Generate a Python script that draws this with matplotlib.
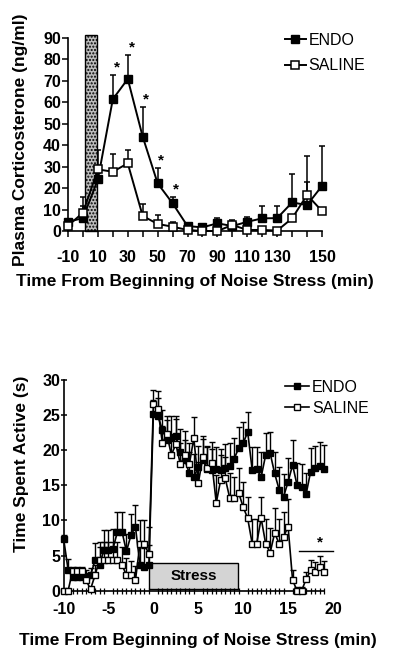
import matplotlib
matplotlib.use("Agg")
import matplotlib.pyplot as plt
import numpy as np
from matplotlib.patches import Rectangle

plt.rcParams['font.family'] = ['Liberation Sans', 'DejaVu Sans']

# ---------------- Top panel data (plasma corticosterone) ----------------
top_tick_labels = ['-10', '', '10', '', '30', '', '50', '', '70', '', '90', '',
                   '110', '', '130', '', '', '150']
top_endo = [4.3, 6.0, 24.0, 61.4, 70.8, 43.9, 22.2, 12.9, 2.3, 1.7, 3.6, 2.3,
            4.3, 5.9, 6.0, 13.3, 12.1, 21.0]
top_endo_err = [1.5, 10.0, 3.0, 11.1, 11.0, 13.7, 7.3, 3.1, 1.0, 1.0, 2.4, 2.7,
                2.4, 5.7, 5.6, 13.1, 10.9, 18.6]
top_saline = [2.5, 8.5, 28.7, 27.6, 31.5, 7.0, 3.3, 2.0, 0.5, 0.0, 0.0, 2.8,
              0.5, 0.5, 0.2, 5.9, 16.8, 9.3]
top_saline_err = [1.0, 3.0, 9.0, 8.4, 6.2, 5.4, 4.1, 2.3, 0.5, 0.5, 0.5, 1.0,
                  0.5, 0.5, 0.5, 1.0, 18.2, 1.0]
top_star_idx = [3, 4, 5, 6, 7]
top_yticks = [0, 10, 20, 30, 40, 50, 60, 70, 80, 90]

# ---------------- Bottom panel data (time spent active) ----------------
bot_time = [-10 + 0.5 * i for i in range(59)]
bot_endo = [7.4, 3.0, 1.9, 1.9, 1.9, 1.9, 2.2, 4.3, 3.7, 5.8,
            5.8, 6.0, 8.4, 8.4, 5.6, 7.9, 9.1, 3.7, 3.3, 3.7,
            25.2, 24.9, 22.9, 21.5, 21.8, 22.0, 19.8, 18.6, 16.7, 16.2,
            17.6, 18.6, 17.3, 17.2, 17.3, 17.2, 17.4, 17.8, 18.8, 20.3,
            21.0, 22.6, 17.2, 17.3, 16.2, 19.3, 19.6, 16.7, 14.4, 13.4,
            15.5, 17.9, 15.0, 14.8, 13.7, 16.9, 17.4, 17.8, 17.3]
bot_endo_err = [0.5, 1.5, 0.8, 0.8, 0.8, 1.0, 1.0, 2.5, 2.5, 2.8,
                2.8, 2.8, 2.8, 2.8, 2.5, 3.0, 3.1, 2.5, 2.8, 2.8,
                2.0, 2.5, 2.8, 2.8, 3.0, 2.8, 3.2, 2.8, 3.0, 3.2,
                3.0, 3.0, 3.2, 3.0, 3.2, 3.0, 3.5, 3.2, 3.0, 3.0,
                3.0, 2.8, 3.2, 3.2, 3.5, 3.2, 3.0, 3.0, 3.2, 3.2,
                3.4, 3.5, 3.2, 3.2, 3.0, 3.4, 3.2, 3.4, 3.4]
bot_saline = [0.0, 0.0, 2.8, 2.8, 2.8, 1.5, 0.2, 2.2, 4.4, 4.4,
              4.4, 4.4, 4.4, 3.7, 2.2, 2.2, 1.5, 6.6, 6.6, 5.2,
              26.6, 25.9, 21.0, 22.3, 19.3, 20.9, 18.0, 19.3, 18.0, 21.7,
              15.3, 19.0, 17.4, 18.2, 12.5, 15.8, 16.0, 13.2, 13.2, 13.9,
              11.9, 10.3, 6.7, 6.7, 10.3, 6.7, 5.4, 8.2, 6.7, 7.7,
              9.1, 1.5, 0.0, 0.0, 1.6, 2.9, 2.6, 3.4, 2.7]
bot_saline_err = [0.0, 0.0, 0.5, 0.5, 0.5, 1.0, 0.3, 1.5, 2.5, 2.5,
                  2.5, 2.5, 2.5, 2.5, 2.5, 2.0, 2.0, 3.5, 3.5, 3.8,
                  2.0, 2.5, 2.5, 2.5, 3.0, 3.5, 3.0, 3.5, 3.0, 3.0,
                  3.0, 3.0, 3.2, 3.0, 4.0, 3.5, 3.0, 3.5, 3.0, 3.5,
                  3.5, 3.0, 3.5, 3.5, 3.0, 3.5, 3.5, 3.5, 3.5, 3.5,
                  4.0, 1.5, 0.5, 0.5, 1.0, 1.5, 1.5, 1.5, 1.5]
bot_xticks = [-10, -5, 0, 5, 10, 15, 20]
bot_yticks = [0, 5, 10, 15, 20, 25, 30]

fig = plt.figure(figsize=(4.0, 6.61), dpi=100)

bold = dict(fontweight='bold')
TICK_FS = 11.5
LABEL_FS = 12.5
LEG_FS = 11.5

# ================= TOP PANEL =================
ax1 = fig.add_axes([0.17, 0.6505, 0.635, 0.2924])
x1 = np.arange(len(top_endo))

# stress shading
ax1.add_patch(Rectangle((1.12, 0), 0.8, 91.5, facecolor='#bdbdbd',
                        edgecolor='black', hatch='.....', linewidth=1.0,
                        clip_on=False, zorder=1))

ax1.errorbar(x1, top_endo, yerr=[np.zeros(len(top_endo)), top_endo_err],
             fmt='none', ecolor='black', elinewidth=1.1, capsize=2.5,
             capthick=1.1, clip_on=False, zorder=2)
ax1.errorbar(x1, top_saline, yerr=[np.zeros(len(top_saline)), top_saline_err],
             fmt='none', ecolor='black', elinewidth=1.1, capsize=2.5,
             capthick=1.1, clip_on=False, zorder=2)
ax1.plot(x1, top_endo, '-s', color='black', mfc='black', mec='black',
         ms=5.5, lw=1.4, clip_on=False, zorder=3, label='ENDO')
ax1.plot(x1, top_saline, '-s', color='black', mfc='white', mec='black',
         ms=5.5, lw=1.4, mew=1.1, clip_on=False, zorder=4, label='SALINE')

for i in top_star_idx:
    ax1.text(i + 0.25, top_endo[i] + top_endo_err[i] + 3.5, '*',
             ha='center', va='center', fontsize=11, **bold)

ax1.set_xlim(0, 17)
ax1.set_ylim(0, 90)
ax1.set_xticks(x1)
ax1.set_xticklabels(top_tick_labels, fontsize=TICK_FS, **bold)
ax1.set_yticks(top_yticks)
ax1.set_yticklabels([str(v) for v in top_yticks], fontsize=TICK_FS, **bold)
ax1.tick_params(axis='x', direction='out', length=4, width=1.1, pad=10)
ax1.tick_params(axis='y', direction='out', length=4, width=1.1, pad=1)
for s in ['top', 'right']:
    ax1.spines[s].set_visible(False)
for s in ['left', 'bottom']:
    ax1.spines[s].set_linewidth(1.2)
ax1.set_ylabel('Plasma Corticosterone (ng/ml)', fontsize=LABEL_FS, **bold)
ax1.yaxis.set_label_coords(-0.157, 0.47)
ax1.set_xlabel('Time From Beginning of Noise Stress (min)', fontsize=LABEL_FS,
               labelpad=6, **bold)
ax1.patch.set_alpha(0)

leg1 = ax1.legend(loc='upper left', bbox_to_anchor=(0.712, 0.950),
                  bbox_transform=fig.transFigure, frameon=False, fontsize=LEG_FS,
                  handlelength=1.3, handletextpad=0.2, labelspacing=0.65,
                  borderpad=0, borderaxespad=0)

# ================= BOTTOM PANEL =================
ax2 = fig.add_axes([0.159, 0.1064, 0.6735, 0.3188])

ax2.add_patch(Rectangle((-0.45, 0.3), 9.85, 3.7, facecolor='#d4d4d4',
                        edgecolor='black', linewidth=1.0, zorder=1))
ax2.text(4.5, 2.15, 'Stress', ha='center', va='center', fontsize=11,
         zorder=2, **bold)

ax2.errorbar(bot_time, bot_endo, yerr=[np.zeros(len(bot_endo)), bot_endo_err],
             fmt='none', ecolor='black', elinewidth=1.0, capsize=2,
             capthick=1.0, clip_on=False, zorder=3)
ax2.errorbar(bot_time, bot_saline,
             yerr=[np.zeros(len(bot_saline)), bot_saline_err],
             fmt='none', ecolor='black', elinewidth=1.0, capsize=2,
             capthick=1.0, clip_on=False, zorder=3)
ax2.plot(bot_time, bot_endo, '-s', color='black', mfc='black', mec='black',
         ms=4.5, lw=1.2, clip_on=False, zorder=4, label='ENDO')
ax2.plot(bot_time, bot_saline, '-s', color='black', mfc='white', mec='black',
         ms=4.5, lw=1.2, mew=1.0, clip_on=False, zorder=5, label='SALINE')

# significance line and asterisk
ax2.plot([16.2, 20.0], [5.7, 5.7], color='black', lw=1.0, clip_on=False)
ax2.text(18.6, 6.9, '*', ha='center', va='center', fontsize=11, **bold)

ax2.set_xlim(-10, 20)
ax2.set_ylim(0, 30)
ax2.set_xticks(bot_xticks)
ax2.set_xticklabels([str(v) for v in bot_xticks], fontsize=TICK_FS, **bold)
ax2.set_xticks(bot_time, minor=True)
ax2.tick_params(axis='x', which='major', length=0, pad=8)
ax2.tick_params(axis='x', which='minor', direction='inout', length=5, width=0.9)
ax2.set_yticks(bot_yticks)
ax2.set_yticklabels([str(v) for v in bot_yticks], fontsize=TICK_FS, **bold)
ax2.tick_params(axis='y', direction='inout', length=5, width=1.1, pad=0)
for s in ['top', 'right']:
    ax2.spines[s].set_visible(False)
ax2.spines['bottom'].set_bounds(-10, 19)
for s in ['left', 'bottom']:
    ax2.spines[s].set_linewidth(1.2)
ax2.set_ylabel('Time Spent Active (s)', fontsize=LABEL_FS, **bold)
ax2.yaxis.set_label_coords(-0.128, 0.6)
ax2.set_xlabel('Time From Beginning of Noise Stress (min)', fontsize=LABEL_FS,
               labelpad=12, **bold)
ax2.patch.set_alpha(0)

leg2 = ax2.legend(loc='upper left', bbox_to_anchor=(0.712, 0.425),
                  bbox_transform=fig.transFigure, frameon=False, fontsize=LEG_FS,
                  handlelength=1.5, handletextpad=0.2, labelspacing=0.35,
                  borderpad=0, borderaxespad=0)

fig.savefig('out.png', dpi=100)
